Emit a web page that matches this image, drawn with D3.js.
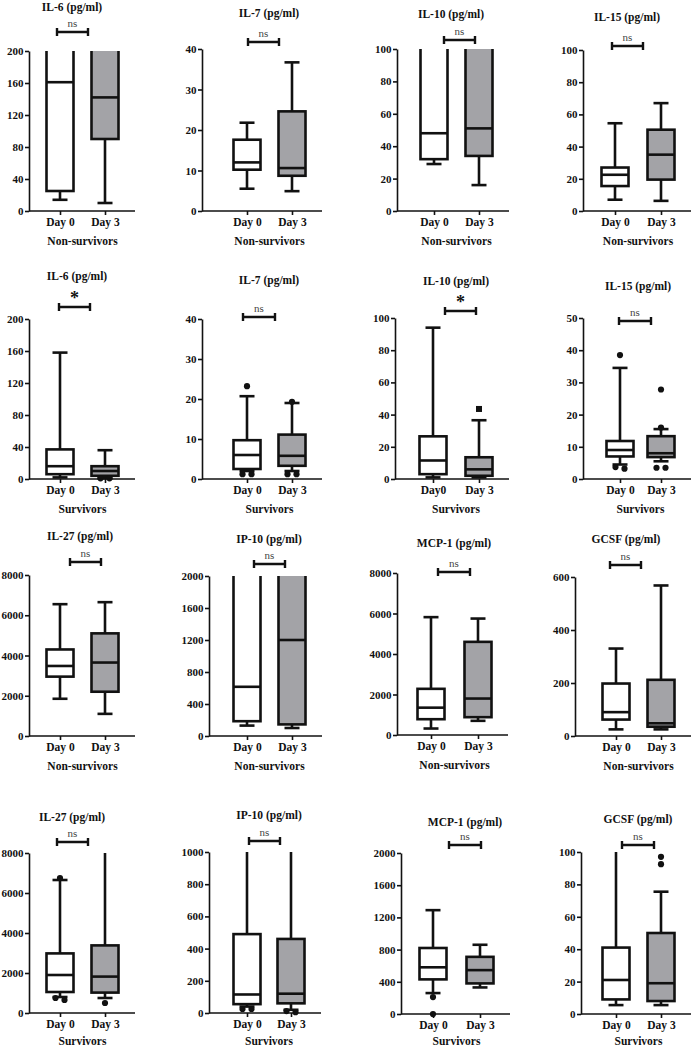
<!DOCTYPE html>
<html><head><meta charset="utf-8">
<script src="https://cdn.jsdelivr.net/npm/d3@7/dist/d3.min.js"></script>
<style>
html,body{margin:0;padding:0;background:#fff;}
svg{display:block;}
text{font-family:"Liberation Serif","Times New Roman",serif;}
</style></head>
<body>
<svg id="chart" width="696" height="1049"></svg>
<script>
// ---------------- DATA ----------------
const titles = ["IL-6 (pg/ml)","IL-7 (pg/ml)","IL-10 (pg/ml)","IL-15 (pg/ml)",
  "IL-6 (pg/ml)","IL-7 (pg/ml)","IL-10 (pg/ml)","IL-15 (pg/ml)",
  "IL-27 (pg/ml)","IP-10 (pg/ml)","MCP-1 (pg/ml)","GCSF (pg/ml)",
  "IL-27 (pg/ml)","IP-10 (pg/ml)","MCP-1 (pg/ml)","GCSF (pg/ml)"];
const groupLabels = ["Non-survivors","Non-survivors","Non-survivors","Non-survivors",
  "Survivors","Survivors","Survivors","Survivors",
  "Non-survivors","Non-survivors","Non-survivors","Non-survivors",
  "Survivors","Survivors","Survivors","Survivors"];
const day0Labels = ["Day 0","Day 0","Day 0","Day 0","Day 0","Day 0","Day0","Day 0",
  "Day 0","Day 0","Day 0","Day 0","Day 0","Day 0","Day 0","Day 0"];
const day3Label = "Day 3";
const yMaxes = [200,40,100,100, 200,40,100,50, 8000,2000,8000,600, 8000,1000,2000,100];
const yTickSteps = [40,10,20,20, 40,10,20,10, 2000,400,2000,200, 2000,200,400,20];
const sigLabels = ["ns","ns","ns","ns","*","ns","*","ns","ns","ns","ns","ns","ns","ns","ns","ns"];
// [whisker low, Q1, median, Q3, whisker high]
const day0Stats = [
  [14,25,161,260,400],[5.5,10.2,12,17.6,21.8],[29,32,48,130,200],[7,15.5,22.5,27,54.5],
  [2,6,16,37,158],[2,2.5,6,9.7,20.7],[1,3,11.5,26.5,94],[4.5,7,9,11.8,34.5],
  [1850,2950,3480,4300,6550],[130,185,615,2600,4000],[320,780,1350,2280,5820],[25,62,90,198,330],
  [800,1050,1900,2980,6650],[40,55,115,490,1500],[260,430,580,820,1290],[5.5,9,21,41,130]];
const day3Stats = [
  [10,90,142,260,400],[4.9,8.7,10.6,24.6,36.7],[16,34,51,130,200],[6.3,19.5,35,50.5,67],
  [1,4,10,16,36],[2,3.3,5.8,11.1,19],[1,2,6,13.5,36.5],[5.5,6.8,8,13.3,15.5],
  [1100,2200,3650,5100,6650],[100,145,1200,2600,4000],[700,880,1800,4600,5750],[25,35,48,212,568],
  [750,1020,1820,3380,9000],[20,60,120,460,1500],[330,380,545,710,860],[5.5,8,19,50,75.5]];
const day0Outliers = [[],[],[],[], [],[23.2,1.2,1.2],[],[38.5,3.2,3.7],
  [],[],[],[], [6750,650,750],[25,25],[210,0],[]];
const day3Outliers = [[],[],[],[], [0.8,0.8],[19.3,1.2,1.2],[],[27.8,16,3.5,3.5],
  [],[],[],[], [500],[5,12],[],[92.5,97]];
const day3SquareOutliers = [[],[],[],[], [],[],[43.5],[], [],[],[],[], [],[],[],[]];

// ---------------- LAYOUT ----------------
// axisX, plotTop, plotBottom, day0 centre, day3 centre, titleX, titleY, sigY, sigX0, sigX1
const layout = [
  [29,51,211,60,105,72,11,32,57,88],
  [202,49,211,247,292,269,17,42,248,279],
  [397,49,211,434,479,451,18,40,444,475],
  [583,50,211,615,661,627,21,46,612,643],
  [29,319,479,60,105,77,280,307,59,90],
  [202,319,479,247,292,269,284,317,243,275],
  [395,318,479,433,479,456,285,311,445,476],
  [583,318,479,620,661,638,290,321,619,651],
  [29,575,736,60,105,80,540,562,70,101],
  [209,576,736,247,292,269,543,564,254,285],
  [397,573,735,431,478,454,547,572,438,470],
  [575,577,736,616,661,626,543,565,610,641],
  [29,853,1013,60,105,72,821,842,57,88],
  [209,852,1013,247,291,269,819,841,249,280],
  [401,853,1014,433,480,465,826,845,449,481],
  [581,852,1014,616,661,638,823,845,622,654]
];

const svg = d3.select("#chart");
const BOX_W = 27, CAP_W = 15, LW = 2.6, FILL3 = "#a3a3a7", INK = "#111";
const FONT = "Liberation Serif, Times New Roman, serif";

titles.forEach((t, i) => {
  const [ax, top, bot, c0, c3, tx, ty, sy, sx0, sx1] = layout[i];
  const g = svg.append("g");
  const y = d3.scaleLinear().domain([0, yMaxes[i]]).range([bot, top]);
  const x = d3.scalePoint().domain([day0Labels[i], day3Label]).range([c0, c3]);
  const xEnd = c3 + 30;

  g.append("text").attr("x", tx).attr("y", ty).attr("text-anchor", "middle")
    .attr("font-size", 11.5).attr("font-weight", "bold").attr("fill", INK).text(t);

  const cid = "clip" + i;
  svg.append("clipPath").attr("id", cid).append("rect")
    .attr("x", ax).attr("y", top).attr("width", xEnd - ax).attr("height", bot - top + 12);
  const plot = g.append("g").attr("clip-path", `url(#${cid})`);

  const groups = [
    {key: day0Labels[i], s: day0Stats[i], o: day0Outliers[i], sq: [], fill: "#fff"},
    {key: day3Label, s: day3Stats[i], o: day3Outliers[i], sq: day3SquareOutliers[i], fill: FILL3}
  ];
  groups.forEach(gr => {
    const cx = x(gr.key);
    const [lo, q1, md, q3, hi] = gr.s;
    plot.append("line").attr("x1", cx).attr("x2", cx).attr("y1", y(q3)).attr("y2", y(hi))
      .attr("stroke", INK).attr("stroke-width", LW);
    plot.append("line").attr("x1", cx).attr("x2", cx).attr("y1", y(q1)).attr("y2", y(lo))
      .attr("stroke", INK).attr("stroke-width", LW);
    [lo, hi].forEach(v => plot.append("line")
      .attr("x1", cx - CAP_W / 2).attr("x2", cx + CAP_W / 2).attr("y1", y(v)).attr("y2", y(v))
      .attr("stroke", INK).attr("stroke-width", LW));
    plot.append("rect").attr("x", cx - BOX_W / 2).attr("width", BOX_W)
      .attr("y", y(q3)).attr("height", y(q1) - y(q3))
      .attr("fill", gr.fill).attr("stroke", INK).attr("stroke-width", LW);
    plot.append("line").attr("x1", cx - BOX_W / 2).attr("x2", cx + BOX_W / 2)
      .attr("y1", y(md)).attr("y2", y(md)).attr("stroke", INK).attr("stroke-width", LW);
    const pts = gr.o.map(v => ({v, py: y(v)})).sort((a, b) => a.py - b.py);
    const clusters = [];
    pts.forEach(p => {
      const last = clusters[clusters.length - 1];
      if (last && Math.abs(last[last.length - 1].py - p.py) < 4) last.push(p); else clusters.push([p]);
    });
    clusters.forEach(cl => cl.forEach((p, k) => {
      const dx = (k - (cl.length - 1) / 2) * 9;
      plot.append("circle").attr("cx", cx + dx).attr("cy", p.py).attr("r", 3.1).attr("fill", INK);
    }));
    gr.sq.forEach(v => plot.append("rect").attr("x", cx - 3).attr("y", y(v) - 3)
      .attr("width", 6).attr("height", 6).attr("fill", INK));
  });

  const ticks = d3.range(0, yMaxes[i] + yTickSteps[i] / 2, yTickSteps[i]);
  const yAx = g.append("g").attr("transform", `translate(${ax},0)`)
    .call(d3.axisLeft(y).tickValues(ticks).tickSize(4).tickSizeOuter(0).tickPadding(1.5).tickFormat(d3.format("d")));
  yAx.select(".domain").attr("stroke", INK).attr("stroke-width", 1.6);
  yAx.selectAll(".tick line").attr("stroke", INK).attr("stroke-width", 1.6);
  yAx.selectAll("text").attr("font-size", 11).attr("font-weight", "bold").attr("fill", INK)
    .attr("font-family", FONT);

  const xAx = g.append("g").attr("transform", `translate(0,${bot})`)
    .call(d3.axisBottom(x).tickSize(4).tickSizeOuter(0).tickPadding(3));
  xAx.select(".domain").attr("d", `M${ax},0H${xEnd}`).attr("stroke", INK).attr("stroke-width", 1.6);
  xAx.selectAll(".tick line").attr("stroke", INK).attr("stroke-width", 1.6);
  xAx.selectAll("text").attr("font-size", 11.5).attr("font-weight", "bold").attr("fill", INK)
    .attr("font-family", FONT);

  g.append("text").attr("x", (c0 + c3) / 2).attr("y", Math.min(bot + 34, 1045)).attr("text-anchor", "middle")
    .attr("font-size", 11.5).attr("font-weight", "bold").attr("fill", INK).text(groupLabels[i]);

  g.append("path").attr("d", `M${sx0},${sy - 4}V${sy + 4}M${sx0},${sy}H${sx1}M${sx1},${sy - 4}V${sy + 4}`)
    .attr("stroke", INK).attr("stroke-width", 2.4).attr("fill", "none");
  const isStar = sigLabels[i] === "*";
  g.append("text").attr("x", (sx0 + sx1) / 2).attr("y", isStar ? sy - 3 : sy - 5)
    .attr("text-anchor", "middle")
    .attr("font-size", isStar ? 18 : 11).attr("font-weight", isStar ? "bold" : "normal")
    .attr("fill", isStar ? INK : "#444").text(sigLabels[i]);
});
</script>
</body></html>
